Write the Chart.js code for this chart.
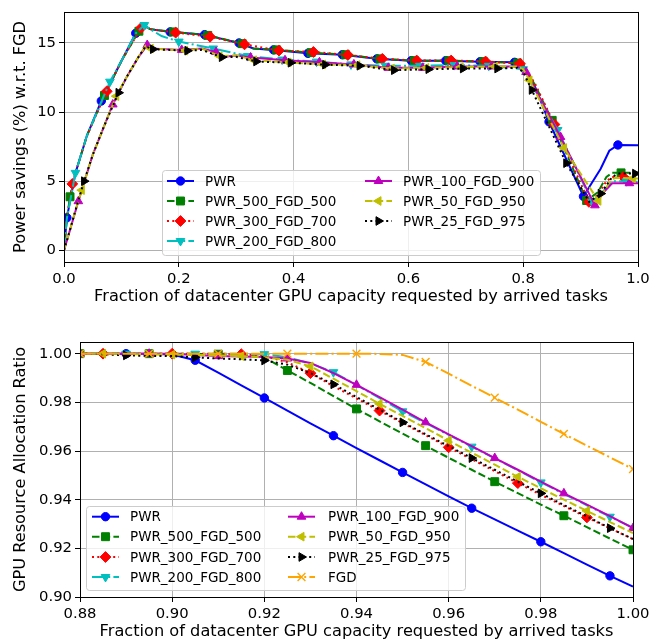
<!DOCTYPE html>
<html>
<head>
<meta charset="utf-8">
<script src="https://cdn.jsdelivr.net/npm/chart.js@4.4.0/dist/chart.umd.min.js"></script>
<style>
  html, body { margin: 0; padding: 0; background: #fff; }
  canvas { display: block; }
</style>
</head>
<body>
<canvas id="topChart" width="670" height="320"></canvas>
<canvas id="botChart" width="670" height="323"></canvas>
<script>
// ===== DATA: top chart (power savings) =====
// marker points and extra shape points for each policy
const pwrMkX = [0.005, 0.065, 0.125, 0.185, 0.245, 0.305, 0.365, 0.425, 0.485, 0.545, 0.605, 0.665, 0.725, 0.785, 0.845, 0.905, 0.965];
const pwrMkY = [2.35, 10.8, 15.7, 15.8, 15.6, 15.0, 14.5, 14.25, 14.15, 13.85, 13.72, 13.72, 13.65, 13.6, 9.3, 3.9, 7.62];
const pwrExX = [0, 0.02, 0.04, 0.1, 0.14, 0.15, 0.2, 0.27, 0.33, 0.8, 0.82, 0.92, 0.935, 0.95, 1.0];
const pwrExY = [0, 5.6, 8.3, 13.7, 16.25, 16.0, 15.75, 15.35, 14.6, 13.4, 11.9, 4.9, 5.9, 7.2, 7.6];

const p500MkX = [0.0105, 0.0705, 0.1305, 0.1905, 0.2505, 0.3105, 0.3705, 0.4305, 0.4905, 0.5505, 0.6105, 0.6705, 0.7305, 0.7905, 0.8505, 0.9105, 0.9705];
const p500MkY = [3.87, 11.2, 15.85, 15.8, 15.55, 14.95, 14.5, 14.3, 14.15, 13.85, 13.72, 13.72, 13.65, 13.55, 9.4, 3.6, 5.6];
const p500ExX = [0, 0.005, 0.02, 0.04, 0.1, 0.14, 0.15, 0.27, 0.33, 0.8, 0.82, 0.93, 0.945, 0.955, 1.0];
const p500ExY = [0, 2.3, 5.6, 8.3, 13.7, 16.25, 16.0, 15.35, 14.6, 13.4, 12.0, 4.2, 5.3, 5.6, 5.6];

const p300MkX = [0.0145, 0.0745, 0.1345, 0.1945, 0.2545, 0.3145, 0.3745, 0.4345, 0.4945, 0.5545, 0.6145, 0.6745, 0.7345, 0.7945, 0.8545, 0.9145, 0.9745];
const p300MkY = [4.8, 11.5, 16.1, 15.75, 15.45, 14.9, 14.45, 14.35, 14.13, 13.85, 13.73, 13.73, 13.66, 13.5, 9.1, 3.5, 5.3];
const p300ExX = [0, 0.005, 0.02, 0.04, 0.1, 0.14, 0.15, 0.8, 0.82, 0.93, 0.945, 0.955, 1.0];
const p300ExY = [0, 2.3, 5.6, 8.3, 13.7, 16.25, 16.0, 13.35, 12.1, 4.0, 5.0, 5.3, 5.2];

const p200MkX = [0.02, 0.08, 0.14, 0.2, 0.26, 0.32, 0.38, 0.44, 0.5, 0.56, 0.62, 0.68, 0.74, 0.8, 0.86, 0.92, 0.98];
const p200MkY = [5.6, 12.2, 16.3, 15.1, 14.6, 14.05, 13.8, 13.65, 13.45, 13.35, 13.35, 13.4, 13.35, 13.1, 8.7, 3.5, 5.0];
const p200ExX = [0, 0.005, 0.04, 0.1, 0.125, 0.15, 0.17, 0.94, 0.955, 1.0];
const p200ExY = [0, 2.3, 8.3, 13.7, 15.7, 16.0, 15.5, 4.3, 5.0, 4.95];

const p100MkX = [0.025, 0.085, 0.145, 0.205, 0.265, 0.325, 0.385, 0.445, 0.505, 0.565, 0.625, 0.685, 0.745, 0.805, 0.865, 0.925, 0.985];
const p100MkY = [3.55, 10.55, 14.85, 14.5, 14.35, 13.95, 13.75, 13.6, 13.45, 13.2, 13.2, 13.3, 13.3, 12.9, 8.2, 3.25, 4.85];
const p100ExX = [0, 0.01, 0.05, 0.11, 0.13, 0.15, 0.24, 0.28, 0.3, 0.79, 0.94, 0.955, 1.0];
const p100ExY = [0, 1.4, 6.9, 12.6, 14.0, 14.6, 14.6, 14.0, 14.1, 13.3, 4.2, 4.85, 4.85];

const p50MkX = [0.031, 0.091, 0.151, 0.211, 0.271, 0.331, 0.391, 0.451, 0.511, 0.571, 0.631, 0.691, 0.751, 0.811, 0.871, 0.931, 0.991];
const p50MkY = [4.35, 11.15, 14.6, 14.45, 14.05, 13.75, 13.6, 13.45, 13.4, 13.15, 13.2, 13.25, 13.3, 12.3, 7.4, 3.57, 5.2];
const p50ExX = [0, 0.01, 0.02, 0.05, 0.07, 0.11, 0.13, 0.142, 0.24, 0.3, 0.79, 0.8, 0.95, 0.96, 1.0];
const p50ExY = [0, 1.4, 2.9, 6.9, 9.0, 12.6, 14.0, 14.8, 14.6, 14.1, 13.3, 13.1, 4.9, 5.25, 5.2];

const p25MkX = [0.035, 0.095, 0.155, 0.215, 0.275, 0.335, 0.395, 0.455, 0.515, 0.575, 0.635, 0.695, 0.755, 0.815, 0.875, 0.935, 0.995];
const p25MkY = [5.0, 11.4, 14.55, 14.44, 13.97, 13.66, 13.57, 13.43, 13.35, 13.03, 13.1, 13.15, 13.15, 11.6, 6.3, 4.1, 5.55];
const p25ExX = [0, 0.01, 0.02, 0.05, 0.07, 0.11, 0.13, 0.142, 0.24, 0.3, 0.79, 0.8, 0.915, 0.955, 0.965, 1.0];
const p25ExY = [0, 1.4, 2.9, 6.9, 9.0, 12.6, 14.0, 14.75, 14.5, 14.0, 13.2, 12.9, 3.5, 5.3, 5.55, 5.55];

const topXTicks = [0.0, 0.2, 0.4, 0.6, 0.8, 1.0];
const topYTicks = [0, 5, 10, 15];

// ===== DATA: bottom chart (allocation ratio) =====
const botX = [0.88, 0.885, 0.89, 0.895, 0.9, 0.905, 0.91, 0.915, 0.92, 0.925, 0.93, 0.935, 0.94, 0.945, 0.95, 0.955, 0.96, 0.965, 0.97, 0.975, 0.98, 0.985, 0.99, 0.995, 1.0];
const botPwr  = [1.0, 1.0, 1.0, 1.0, 0.9997, 0.9973, 0.9922, 0.987, 0.9818, 0.9766, 0.9714, 0.9663, 0.9612, 0.9562, 0.9512, 0.9463, 0.9414, 0.9365, 0.9319, 0.9273, 0.9227, 0.918, 0.9133, 0.9087, 0.9043];
const botP500 = [1.0, 1.0, 1.0, 1.0, 1.0, 0.9999, 0.9998, 0.9995, 0.9985, 0.9931, 0.988, 0.9826, 0.9773, 0.9722, 0.9672, 0.9622, 0.9572, 0.9523, 0.9474, 0.9427, 0.938, 0.9334, 0.9287, 0.924, 0.9194];
const botP300 = [1.0, 1.0, 1.0, 1.0, 1.0, 1.0, 1.0, 0.9998, 0.999, 0.9965, 0.992, 0.9866, 0.9816, 0.9766, 0.9715, 0.9665, 0.9615, 0.9566, 0.9517, 0.9468, 0.942, 0.9374, 0.9327, 0.9282, 0.9238];
const botP200 = [1.0, 1.0, 1.0, 1.0, 1.0, 1.0, 1.0, 1.0, 0.9998, 0.9985, 0.996, 0.9924, 0.9872, 0.9817, 0.9763, 0.9715, 0.9666, 0.9618, 0.957, 0.9521, 0.9471, 0.9424, 0.9377, 0.933, 0.9285];
const botP100 = [1.0, 1.0, 1.0, 1.0, 1.0, 0.9995, 0.999, 0.9988, 0.9986, 0.998, 0.9962, 0.992, 0.9872, 0.9821, 0.977, 0.9718, 0.9668, 0.962, 0.9571, 0.9523, 0.9474, 0.9426, 0.938, 0.9332, 0.9283];
const botP50  = [1.0, 1.0, 0.9998, 0.9997, 0.9996, 0.9995, 0.9993, 0.999, 0.9985, 0.9975, 0.9948, 0.9897, 0.9846, 0.9794, 0.9744, 0.9694, 0.9643, 0.9593, 0.9544, 0.9494, 0.9447, 0.94, 0.9354, 0.9308, 0.9263];
const botP25  = [1.0, 0.9998, 0.9993, 0.9991, 0.999, 0.9985, 0.998, 0.9977, 0.9972, 0.9955, 0.992, 0.9874, 0.9822, 0.977, 0.9718, 0.9669, 0.962, 0.9571, 0.9523, 0.9474, 0.9426, 0.9378, 0.9331, 0.9283, 0.9238];
const botFgd  = [1.0, 1.0, 1.0, 1.0, 1.0, 1.0, 1.0, 1.0, 1.0, 1.0, 1.0, 1.0, 1.0, 0.9999, 0.9995, 0.9966, 0.9918, 0.9868, 0.9819, 0.977, 0.972, 0.967, 0.9622, 0.9574, 0.9526];

const botXTicks = [0.88, 0.90, 0.92, 0.94, 0.96, 0.98, 1.00];
const botYTicks = [0.90, 0.92, 0.94, 0.96, 0.98, 1.00];

// ===== STYLES (matplotlib-like) =====
const FONT = '"DejaVu Sans", sans-serif';
const STY = {
    'PWR':             { color: '#0000ff', dash: [],               pt: 'circle',   rot: 0,   r: 4.2 },
    'PWR_500_FGD_500': { color: '#008000', dash: [7.5, 3.2],       pt: 'rect',     rot: 0,   r: 5.6 },
    'PWR_300_FGD_700': { color: '#ff0000', dash: [2, 3.3],         pt: 'rectRot',  rot: 0,   r: 5.4 },
    'PWR_200_FGD_800': { color: '#00bfbf', dash: [13, 3.2, 2, 3.2], pt: 'triangle', rot: 180, r: 5 },
    'PWR_100_FGD_900': { color: '#bf00bf', dash: [],               pt: 'triangle', rot: 0,   r: 5 },
    'PWR_50_FGD_950':  { color: '#bfbf00', dash: [7.5, 3.2],       pt: 'triangle', rot: -90, r: 5 },
    'PWR_25_FGD_975':  { color: '#000000', dash: [2, 3.3],         pt: 'triangle', rot: 90,  r: 5 },
    'FGD':             { color: '#ffa500', dash: [13, 3.2, 2, 3.2], pt: 'crossRot', rot: 0,   r: 5.5 }
};

function mergePoints(mx, my, ex, ey) {
    const pts = mx.map((x, i) => ({ x: x, y: my[i], mk: true }))
        .concat(ex.map((x, i) => ({ x: x, y: ey[i], mk: false })));
    return pts.sort((a, b) => a.x - b.x);
}

function makeDataset(label, pts, idx, total) {
    const s = STY[label];
    return {
        label: label,
        data: pts,
        borderColor: s.color,
        backgroundColor: s.color,
        pointBackgroundColor: s.color,
        pointBorderColor: s.color,
        borderWidth: 2,
        borderDash: s.dash,
        borderCapStyle: 'butt',
        tension: 0,
        pointStyle: s.pt,
        pointRotation: s.rot,
        pointBorderWidth: s.pt === 'crossRot' ? 1.4 : 1,
        pointRadius: ctx => (ctx.raw && ctx.raw.mk ? s.r : 0),
        pointHoverRadius: ctx => (ctx.raw && ctx.raw.mk ? s.r : 0),
        order: total - idx
    };
}

// ===== PLUGINS =====
const framePlugin = {
    id: 'frame',
    afterDatasetsDraw(chart) {
        const a = chart.chartArea;
        const ctx = chart.ctx;
        ctx.save();
        ctx.strokeStyle = '#000';
        ctx.lineWidth = 1;
        ctx.strokeRect(Math.round(a.left) + 0.5, Math.round(a.top) + 0.5,
            Math.round(a.right - a.left), Math.round(a.bottom - a.top));
        ctx.restore();
    }
};

function legendPlugin(box, colX, textX, rowY, perCol) {
    return {
        id: 'mplLegend',
        afterDraw(chart) {
            const ctx = chart.ctx;
            ctx.save();
            ctx.beginPath();
            ctx.roundRect(box[0] + 0.5, box[1] + 0.5, box[2] - box[0], box[3] - box[1], 3);
            ctx.fillStyle = 'rgba(255,255,255,0.8)';
            ctx.fill();
            ctx.strokeStyle = '#cccccc';
            ctx.lineWidth = 1;
            ctx.stroke();
            chart.data.datasets.forEach((ds, i) => {
                const s = STY[ds.label];
                const col = Math.floor(i / perCol);
                const x = colX[col];
                const y = rowY[i % perCol];
                ctx.strokeStyle = s.color;
                ctx.lineWidth = 2;
                ctx.lineCap = 'butt';
                ctx.setLineDash(s.dash);
                ctx.beginPath();
                ctx.moveTo(x, y);
                ctx.lineTo(x + 27, y);
                ctx.stroke();
                ctx.setLineDash([]);
                ctx.fillStyle = s.color;
                ctx.lineWidth = s.pt === 'crossRot' ? 1.4 : 1;
                Chart.helpers.drawPoint(ctx, { pointStyle: s.pt, rotation: s.rot, radius: s.r, borderWidth: 1 }, x + 13.5, y);
                ctx.fillStyle = '#000';
                ctx.font = '13.5px ' + FONT;
                ctx.textBaseline = 'middle';
                ctx.textAlign = 'left';
                ctx.fillText(ds.label, textX[col], y + 1);
            });
            ctx.restore();
        }
    };
}

function axisOpts(min, max, ticks, digits, title, fixed, titlePad) {
    return {
        type: 'linear',
        min: min,
        max: max,
        afterBuildTicks: sc => { sc.ticks = ticks.map(v => ({ value: v })); },
        afterFit: sc => {
            if (sc.isHorizontal()) sc.height = fixed; else sc.width = fixed;
        },
        ticks: {
            autoSkip: false,
            maxRotation: 0,
            padding: 3,
            color: '#000',
            font: { family: FONT, size: 14.8 },
            callback: v => v.toFixed(digits)
        },
        grid: {
            color: '#b0b0b0',
            lineWidth: 1,
            drawTicks: true,
            tickLength: 5,
            tickColor: '#000',
            tickWidth: 1
        },
        border: { display: false },
        title: {
            display: true,
            text: title,
            color: '#000',
            font: { family: FONT, size: 16.2 },
            padding: titlePad
        }
    };
}

Chart.defaults.font.family = FONT;
Chart.defaults.animation = false;

// ===== TOP CHART =====
const topLabels = ['PWR', 'PWR_500_FGD_500', 'PWR_300_FGD_700', 'PWR_200_FGD_800', 'PWR_100_FGD_900', 'PWR_50_FGD_950', 'PWR_25_FGD_975'];
const topPts = [
    mergePoints(pwrMkX, pwrMkY, pwrExX, pwrExY),
    mergePoints(p500MkX, p500MkY, p500ExX, p500ExY),
    mergePoints(p300MkX, p300MkY, p300ExX, p300ExY),
    mergePoints(p200MkX, p200MkY, p200ExX, p200ExY),
    mergePoints(p100MkX, p100MkY, p100ExX, p100ExY),
    mergePoints(p50MkX, p50MkY, p50ExX, p50ExY),
    mergePoints(p25MkX, p25MkY, p25ExX, p25ExY)
];

new Chart(document.getElementById('topChart'), {
    type: 'line',
    data: {
        datasets: topLabels.map((l, i) => makeDataset(l, topPts[i], i, topLabels.length))
    },
    options: {
        responsive: false,
        devicePixelRatio: 1,
        animation: false,
        layout: { padding: { left: 0, right: 32, top: 5, bottom: 0 } },
        plugins: { legend: { display: false }, tooltip: { enabled: false } },
        scales: {
            x: axisOpts(0, 1, topXTicks, 1, 'Fraction of datacenter GPU capacity requested by arrived tasks', 58, { top: 0, bottom: 13 }),
            y: axisOpts(-0.85, 17.25, topYTicks, 0, 'Power savings (%) w.r.t. FGD', 64, { top: 11, bottom: 0 })
        }
    },
    plugins: [framePlugin, legendPlugin([162, 170, 540, 255], [167, 365], [205, 403], [181, 201, 221, 241], 4)]
});

// ===== BOTTOM CHART =====
const botLabels = ['PWR', 'PWR_500_FGD_500', 'PWR_300_FGD_700', 'PWR_200_FGD_800', 'PWR_100_FGD_900', 'PWR_50_FGD_950', 'PWR_25_FGD_975', 'FGD'];
const botSeries = [botPwr, botP500, botP300, botP200, botP100, botP50, botP25, botFgd];
const botMarkStart = [2, 0, 1, 2, 0, 1, 2, 0];

new Chart(document.getElementById('botChart'), {
    type: 'line',
    data: {
        datasets: botLabels.map((l, i) => makeDataset(l,
            botX.map((x, j) => ({ x: x, y: botSeries[i][j], mk: j % 3 === botMarkStart[i] })),
            i, botLabels.length))
    },
    options: {
        responsive: false,
        devicePixelRatio: 1,
        animation: false,
        layout: { padding: { left: 0, right: 37, top: 22, bottom: 0 } },
        plugins: { legend: { display: false }, tooltip: { enabled: false } },
        scales: {
            x: axisOpts(0.88, 1.0, botXTicks, 2, 'Fraction of datacenter GPU capacity requested by arrived tasks', 46, { top: 0, bottom: 1 }),
            y: axisOpts(0.9, 1.0048, botYTicks, 2, 'GPU Resource Allocation Ratio', 80, { top: 11, bottom: 0 })
        }
    },
    plugins: [framePlugin, legendPlugin([86, 186, 465, 270], [92, 288], [130, 328], [196.7, 216.7, 237, 257], 4)]
});
</script>
</body>
</html>
